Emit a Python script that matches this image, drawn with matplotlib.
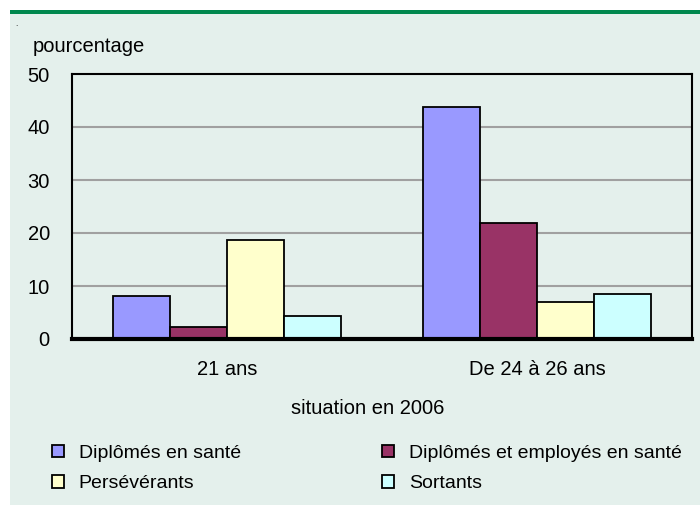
import matplotlib
matplotlib.use("Agg")
import matplotlib.pyplot as plt
from matplotlib.patches import Rectangle
import numpy as np

categories = ["21 ans", "De 24 à 26 ans"]
series_names = ["Diplômés en santé", "Diplômés et employés en santé", "Persévérants", "Sortants"]
diplomes_sante = [8.2, 43.8]
diplomes_employes = [2.3, 21.9]
perseverants = [18.7, 6.9]
sortants = [4.3, 8.4]
colors = ["#9999FF", "#993366", "#FFFFCC", "#CCFFFF"]
yticks = [0, 10, 20, 30, 40, 50]

plt.rcParams['font.family'] = ['Liberation Sans', 'DejaVu Sans']
FS = 14.5
LFS = 14.0

W, H = 700, 516
fig = plt.figure(figsize=(W / 100, H / 100), dpi=100)
fig.patch.set_facecolor("white")

def fx(px):
    return px / W

def fy(py):
    return 1 - py / H

# panel background and green top rule
fig.patches.append(Rectangle((fx(10), fy(505)), fx(690), (505 - 13) / H,
                             transform=fig.transFigure, facecolor="#E4F0EC",
                             edgecolor="none", zorder=0))
fig.patches.append(Rectangle((fx(10), fy(14)), fx(690), 4 / H,
                             transform=fig.transFigure, facecolor="#00884E",
                             edgecolor="none", zorder=1))

ax = fig.add_axes([fx(72), fy(339), fx(620), 265 / H])
ax.set_zorder(5)
ax.set_facecolor("#E4F0EC")

data = [diplomes_sante, diplomes_employes, perseverants, sortants]
x = np.arange(len(categories))
w = 0.1835
handles = []
for i, (vals, c, name) in enumerate(zip(data, colors, series_names)):
    b = ax.bar(x + (i - 1.5) * w, vals, width=w, color=c, edgecolor="black",
               linewidth=1.3, label=name, zorder=3)
    handles.append(b)

ax.set_xlim(-0.5, 1.5)
ax.set_ylim(0, 50)
ax.set_yticks(yticks)
ax.set_yticklabels([str(v) for v in yticks], fontsize=FS)
ax.set_xticks(x)
ax.set_xticklabels(categories, fontsize=FS)
ax.tick_params(axis="both", length=0)
ax.tick_params(axis="y", pad=16)
ax.tick_params(axis="x", pad=15)
for v in yticks[1:-1]:
    ax.axhline(v, color="#A0A0A0", linewidth=1.5, zorder=1)
for s in ["left", "top", "right"]:
    ax.spines[s].set_linewidth(1.5)
    ax.spines[s].set_color("black")
ax.spines["bottom"].set_linewidth(3)
ax.spines["bottom"].set_zorder(5)

fig.text(fx(15), fy(24), ".", fontsize=6, va="center", ha="left", zorder=6)
fig.text(fx(33), fy(47), "pourcentage", fontsize=FS, va="center", ha="left", zorder=6)
fig.text(fx(368), fy(408), "situation en 2006", fontsize=FS, va="center", ha="center", zorder=6)

order = [0, 2, 1, 3]
leg = fig.legend(handles=[handles[k] for k in order], loc="upper left",
                 bbox_to_anchor=(fx(34), fy(427)), ncol=2, frameon=False,
                 fontsize=LFS, handlelength=0.62, handleheight=0.62,
                 handletextpad=0.78, columnspacing=7.25, labelspacing=0.7)
leg.set_zorder(6)

fig.savefig("out.png", dpi=100, facecolor=fig.get_facecolor())
